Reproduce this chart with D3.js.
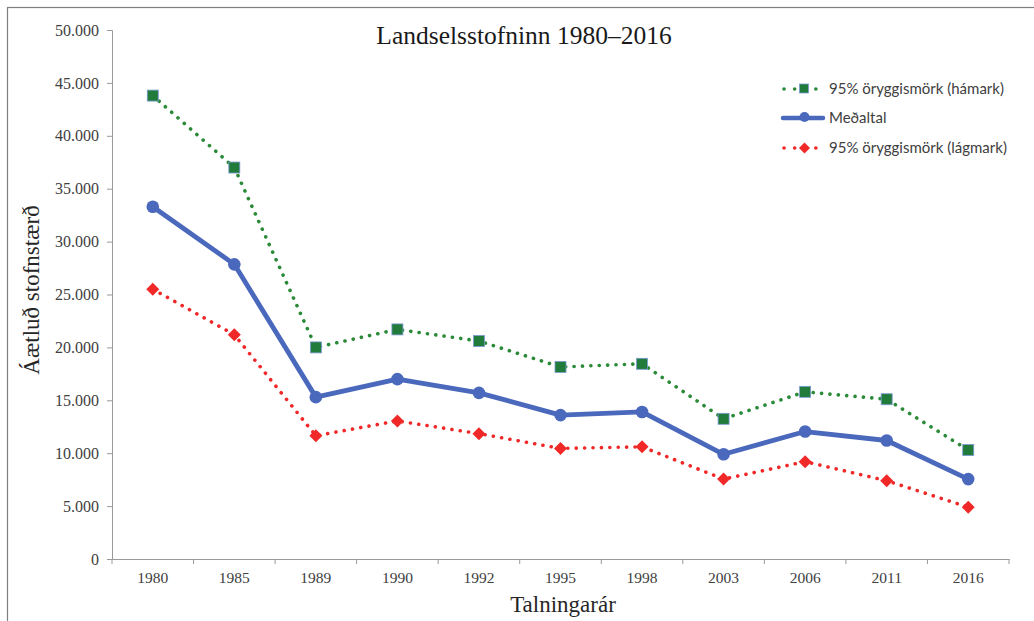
<!DOCTYPE html>
<html><head><meta charset="utf-8">
<script src="https://cdn.jsdelivr.net/npm/d3@7"></script>
<style>body{margin:0;background:#fff}svg{display:block}</style>
</head><body>
<svg id="c" width="1034" height="621"></svg>
<script>
const years = ["1980","1985","1989","1990","1992","1995","1998","2003","2006","2011","2016"];
const upper = [43800,37000,20000,21700,20600,18150,18450,13250,15800,15100,10300];
const mean  = [33300,27850,15300,17000,15700,13600,13900,9900,12050,11200,7550];
const lower = [25500,21200,11650,13050,11850,10450,10600,7550,9200,7400,4900];
const yTicks = [0,5000,10000,15000,20000,25000,30000,35000,40000,45000,50000];
const seriesNames = ["95% öryggismörk (hámark)","Meðaltal","95% öryggismörk (lágmark)"];
const titleText = "Landselsstofninn 1980\u20132016";
const yLabel = "Áætluð stofnstærð";
const xLabel = "Talningarár";

const svg = d3.select("#c");
// outer frame (top and left visible)
svg.append("rect").attr("x",7.5).attr("y",7.5).attr("width",1060).attr("height",640)
  .attr("fill","none").attr("stroke","#7f7f7f").attr("stroke-width",1.2);

const x = d3.scaleBand().domain(years).range([112,1009]);
const y = d3.scaleLinear().domain([0,50000]).range([559,30]);
const fmt = v => d3.format(",")(v).replace(/,/g,".");

// y axis
const ya = svg.append("g").attr("transform","translate(112,0)")
  .call(d3.axisLeft(y).tickValues(yTicks).tickSize(5).tickPadding(8).tickFormat(fmt));
ya.select(".domain").attr("stroke","#999");
ya.selectAll(".tick line").attr("stroke","#999");
ya.selectAll("text").attr("font-family","Liberation Serif").attr("font-size",16).attr("fill","#404040");

// x axis
const xa = svg.append("g").attr("transform","translate(0,559)")
  .call(d3.axisBottom(x).tickSize(0).tickPadding(13));
xa.select(".domain").attr("stroke","#999");
xa.selectAll("text").attr("font-family","Liberation Serif").attr("font-size",15.5).attr("fill","#404040");
const bounds = years.map(d=>x(d)).concat([x.range()[1]]);
svg.append("g").selectAll("line").data(bounds).join("line")
  .attr("x1",d=>d).attr("x2",d=>d).attr("y1",559).attr("y2",564).attr("stroke","#999");

const cx = d => x(d) + x.bandwidth()/2;
const line = vals => d3.line().x((d,i)=>cx(years[i])).y(d=>y(d))(vals);

// upper
svg.append("path").attr("d",line(upper)).attr("fill","none").attr("stroke","#2a8a38")
  .attr("stroke-width",3.6).attr("stroke-dasharray","0.1 8.3").attr("stroke-linecap","round");
// lower
svg.append("path").attr("d",line(lower)).attr("fill","none").attr("stroke","#f02828")
  .attr("stroke-width",3.6).attr("stroke-dasharray","0.1 8.3").attr("stroke-linecap","round");
// mean
svg.append("path").attr("d",line(mean)).attr("fill","none").attr("stroke","#4a68bc")
  .attr("stroke-width",4.8).attr("stroke-linejoin","round");

// markers
svg.append("g").selectAll("rect").data(upper).join("rect")
  .attr("x",(d,i)=>cx(years[i])-5.5).attr("y",d=>y(d)-5.5).attr("width",11).attr("height",11)
  .attr("fill","#217b3b").attr("stroke","#7c9ad6").attr("stroke-width",0.8);
svg.append("g").selectAll("circle").data(mean).join("circle")
  .attr("cx",(d,i)=>cx(years[i])).attr("cy",d=>y(d)).attr("r",6.3).attr("fill","#4a68bc");
svg.append("g").selectAll("path").data(lower).join("path")
  .attr("d",(d,i)=>{const X=cx(years[i]),Y=y(d),s=6.5;return `M${X},${Y-s}L${X+s},${Y}L${X},${Y+s}L${X-s},${Y}Z`;})
  .attr("fill","#f02828");

// title and axis labels
svg.append("text").attr("x",524).attr("y",44).attr("text-anchor","middle")
  .attr("font-family","Liberation Serif").attr("font-size",25.5).attr("fill","#1a1a1a").text(titleText);
svg.append("text").attr("transform","translate(39,290) rotate(-90)").attr("text-anchor","middle")
  .attr("font-family","Liberation Serif").attr("font-size",23).attr("fill","#262626").text(yLabel);
svg.append("text").attr("x",563).attr("y",612).attr("text-anchor","middle")
  .attr("font-family","Liberation Serif").attr("font-size",23).attr("fill","#262626").text(xLabel);

// legend
const lg = svg.append("g");
const rowsY = [89,118,148];
const lx0 = 782, lx1 = 825;
// upper
lg.append("line").attr("x1",lx0+2).attr("x2",lx1-2).attr("y1",rowsY[0]).attr("y2",rowsY[0])
  .attr("stroke","#2a8a38").attr("stroke-width",3.6).attr("stroke-dasharray","0.1 10.5").attr("stroke-linecap","round");
lg.append("rect").attr("x",(lx0+lx1)/2-5+1).attr("y",rowsY[0]-5).attr("width",9).attr("height",9)
  .attr("fill","#217b3b").attr("stroke","#7c9ad6").attr("stroke-width",0.8);
// mean
lg.append("line").attr("x1",lx0+1).attr("x2",lx1-2).attr("y1",rowsY[1]).attr("y2",rowsY[1])
  .attr("stroke","#4a68bc").attr("stroke-width",4.5).attr("stroke-linecap","round");
lg.append("circle").attr("cx",(lx0+lx1)/2+1).attr("cy",rowsY[1]-1).attr("r",5).attr("fill","#4a68bc");
// lower
lg.append("line").attr("x1",lx0+2).attr("x2",lx1-2).attr("y1",rowsY[2]).attr("y2",rowsY[2])
  .attr("stroke","#f02828").attr("stroke-width",3.6).attr("stroke-dasharray","0.1 10.5").attr("stroke-linecap","round");
lg.append("path").attr("d",(()=>{const X=(lx0+lx1)/2+1,Y=rowsY[2],s=5.5;return `M${X},${Y-s}L${X+s},${Y}L${X},${Y+s}L${X-s},${Y}Z`;})())
  .attr("fill","#f02828");
lg.selectAll("text").data(seriesNames).join("text")
  .attr("x",829).attr("y",(d,i)=>rowsY[i]+5)
  .attr("font-family","Lato").attr("font-size",15).attr("fill","#404040").text(d=>d);
</script>
</body></html>
